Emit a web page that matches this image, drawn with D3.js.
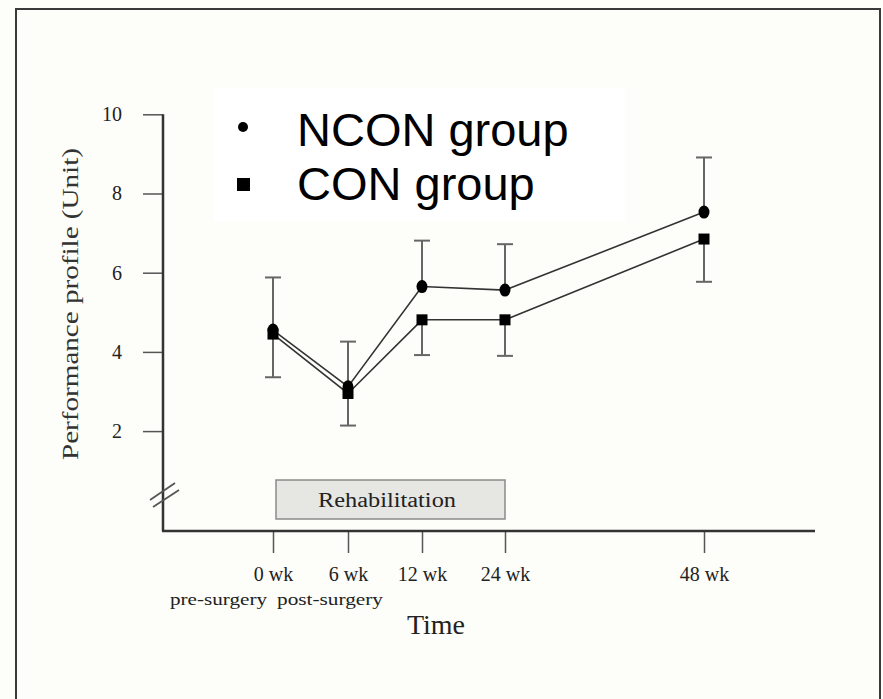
<html>
    <head>
        <title>Performance profile</title>
        <style>
            body { margin: 0; background: #fdfdf9; }
        </style>
    </head>
    <body>

        <div id="chart-area"></div>

        <script src="https://d3js.org/d3.v7.min.js"></script>

        <script>

            // data
            const weeks = [0, 6, 12, 24, 48]
            const weekLabels = ["0 wk", "6 wk", "12 wk", "24 wk", "48 wk"]
            const subLabels = ["pre-surgery", "post-surgery", "", "", ""]
            const nconMean = [4.55, 3.12, 5.65, 5.56, 7.53]
            const nconUpper = [5.88, 4.26, 6.81, 6.72, 8.91]
            const conMean = [4.45, 2.95, 4.81, 4.81, 6.85]
            const conLower = [3.36, 2.14, 3.92, 3.90, 5.77]
            const yTicks = [2, 4, 6, 8, 10]
            const legendItems = ["NCON group", "CON group"]

            // layout
            const W = 883, H = 699
            const AXIS_X = 163, AXIS_Y = 531
            const X_END = 815
            const X_POS = [273, 348, 422, 505, 704]
            const SERIF = "'Liberation Serif', 'Times New Roman', serif"
            const SANS = "'Liberation Sans', Arial, sans-serif"

            const svg = d3.select("#chart-area")
                .append("svg")
                    .attr("width", W)
                    .attr("height", H)

            // outer frame
            svg.append("rect")
                .attr("x", 16)
                .attr("y", 9)
                .attr("width", 864)
                .attr("height", 720)
                .attr("fill", "#fdfdf9")
                .attr("stroke", "#3a3a3a")
                .attr("stroke-width", 2)

            // scales
            const x = d3.scaleLinear()
                .domain(weeks)
                .range(X_POS)

            const y = d3.scaleLinear()
                .domain([0, 10])
                .range([510.3, 114.3])

            // y axis
            const yAxis = d3.axisLeft(y)
                .tickValues(yTicks)
                .tickSize(20)
                .tickPadding(21)
                .tickSizeOuter(0)

            svg.append("g")
                .attr("transform", `translate(${AXIS_X}, 0)`)
                .call(yAxis)
                .call(g => g.select(".domain").remove())
                .call(g => g.selectAll("line").attr("stroke", "#555").attr("stroke-width", 1.5))
                .selectAll("text")
                    .attr("font-family", SERIF)
                    .attr("font-size", "20px")
                    .attr("fill", "#222")

            svg.append("line")
                .attr("x1", AXIS_X).attr("x2", AXIS_X)
                .attr("y1", y(10)).attr("y2", AXIS_Y)
                .attr("stroke", "#333")
                .attr("stroke-width", 2.5)

            // axis break
            ;[[150, 500, 175, 483], [153, 507, 179, 490]].forEach(s => {
                svg.append("line")
                    .attr("x1", s[0]).attr("y1", s[1])
                    .attr("x2", s[2]).attr("y2", s[3])
                    .attr("stroke", "#555")
                    .attr("stroke-width", 1.8)
            })

            // x axis
            const xAxis = d3.axisBottom(x)
                .tickValues(weeks)
                .tickFormat((d, i) => weekLabels[i])
                .tickSize(22)
                .tickPadding(14)
                .tickSizeOuter(0)

            svg.append("g")
                .attr("transform", `translate(0, ${AXIS_Y})`)
                .call(xAxis)
                .call(g => g.select(".domain").remove())
                .call(g => g.selectAll("line").attr("stroke", "#555").attr("stroke-width", 1.5))
                .selectAll("text")
                    .attr("font-family", SERIF)
                    .attr("font-size", "20px")
                    .attr("fill", "#222")

            svg.append("line")
                .attr("x1", AXIS_X - 1).attr("x2", X_END)
                .attr("y1", AXIS_Y).attr("y2", AXIS_Y)
                .attr("stroke", "#333")
                .attr("stroke-width", 2.5)

            // sub labels under ticks
            svg.append("text")
                .attr("x", 170).attr("y", 605)
                .attr("font-family", SERIF)
                .attr("font-size", "17px")
                .attr("fill", "#222")
                .attr("textLength", 97)
                .attr("lengthAdjust", "spacingAndGlyphs")
                .text(subLabels[0])
            svg.append("text")
                .attr("x", 277).attr("y", 605)
                .attr("font-family", SERIF)
                .attr("font-size", "17px")
                .attr("fill", "#222")
                .attr("textLength", 106)
                .attr("lengthAdjust", "spacingAndGlyphs")
                .text(subLabels[1])

            // axis titles
            svg.append("text")
                .attr("x", 436).attr("y", 634)
                .attr("text-anchor", "middle")
                .attr("font-family", SERIF)
                .attr("font-size", "28px")
                .attr("fill", "#222")
                .text("Time")

            svg.append("text")
                .attr("transform", "translate(78, 304) rotate(-90)")
                .attr("text-anchor", "middle")
                .attr("font-family", SERIF)
                .attr("font-size", "24px")
                .attr("fill", "#333")
                .attr("textLength", 312)
                .attr("lengthAdjust", "spacingAndGlyphs")
                .text("Performance profile (Unit)")

            // rehabilitation box
            svg.append("rect")
                .attr("x", x(0) + 3).attr("y", 480)
                .attr("width", x(24) - x(0) - 3).attr("height", 39)
                .attr("fill", "#e6e6e3")
                .attr("stroke", "#8a8a8a")
                .attr("stroke-width", 1.5)
            svg.append("text")
                .attr("x", (x(0) + x(24)) / 2 - 2).attr("y", 507)
                .attr("text-anchor", "middle")
                .attr("font-family", SERIF)
                .attr("font-size", "20px")
                .attr("fill", "#222")
                .attr("textLength", 138)
                .attr("lengthAdjust", "spacingAndGlyphs")
                .text("Rehabilitation")

            // error bars
            const CAP = 8
            function errorBars(mean, ends) {
                weeks.forEach((w, i) => {
                    const cx = x(w)
                    svg.append("line")
                        .attr("x1", cx).attr("x2", cx)
                        .attr("y1", y(mean[i])).attr("y2", y(ends[i]))
                        .attr("stroke", "#666")
                        .attr("stroke-width", 2)
                    svg.append("line")
                        .attr("x1", cx - CAP).attr("x2", cx + CAP)
                        .attr("y1", y(ends[i])).attr("y2", y(ends[i]))
                        .attr("stroke", "#666")
                        .attr("stroke-width", 2)
                })
            }
            errorBars(nconMean, nconUpper)
            errorBars(conMean, conLower)

            // lines
            const line = d3.line()
                .x((d, i) => x(weeks[i]))
                .y(d => y(d))

            ;[nconMean, conMean].forEach(s => {
                svg.append("path")
                    .datum(s)
                    .attr("d", line)
                    .attr("fill", "none")
                    .attr("stroke", "#333")
                    .attr("stroke-width", 1.6)
            })

            // markers
            svg.selectAll(".ncon")
                .data(nconMean).enter()
                .append("ellipse")
                    .attr("cx", (d, i) => x(weeks[i]))
                    .attr("cy", d => y(d))
                    .attr("rx", 5.5)
                    .attr("ry", 6.5)
                    .attr("fill", "#000")

            svg.selectAll(".con")
                .data(conMean).enter()
                .append("rect")
                    .attr("x", (d, i) => x(weeks[i]) - 5.5)
                    .attr("y", d => y(d) - 5.5)
                    .attr("width", 11)
                    .attr("height", 11)
                    .attr("fill", "#000")

            // legend
            svg.append("rect")
                .attr("x", 213).attr("y", 88)
                .attr("width", 412).attr("height", 134)
                .attr("fill", "#ffffff")

            const legend = svg.append("g")
            legendItems.forEach((name, i) => {
                const base = 146 + i * 54
                if (i === 0) {
                    legend.append("circle")
                        .attr("cx", 243).attr("cy", base - 19)
                        .attr("r", 5)
                        .attr("fill", "#000")
                } else {
                    legend.append("rect")
                        .attr("x", 237).attr("y", base - 22)
                        .attr("width", 13).attr("height", 13)
                        .attr("fill", "#000")
                }
                legend.append("text")
                    .attr("x", 297).attr("y", base)
                    .attr("font-family", SANS)
                    .attr("font-size", "47px")
                    .attr("fill", "#000")
                    .text(name)
            })

        </script>
    </body>
</html>
